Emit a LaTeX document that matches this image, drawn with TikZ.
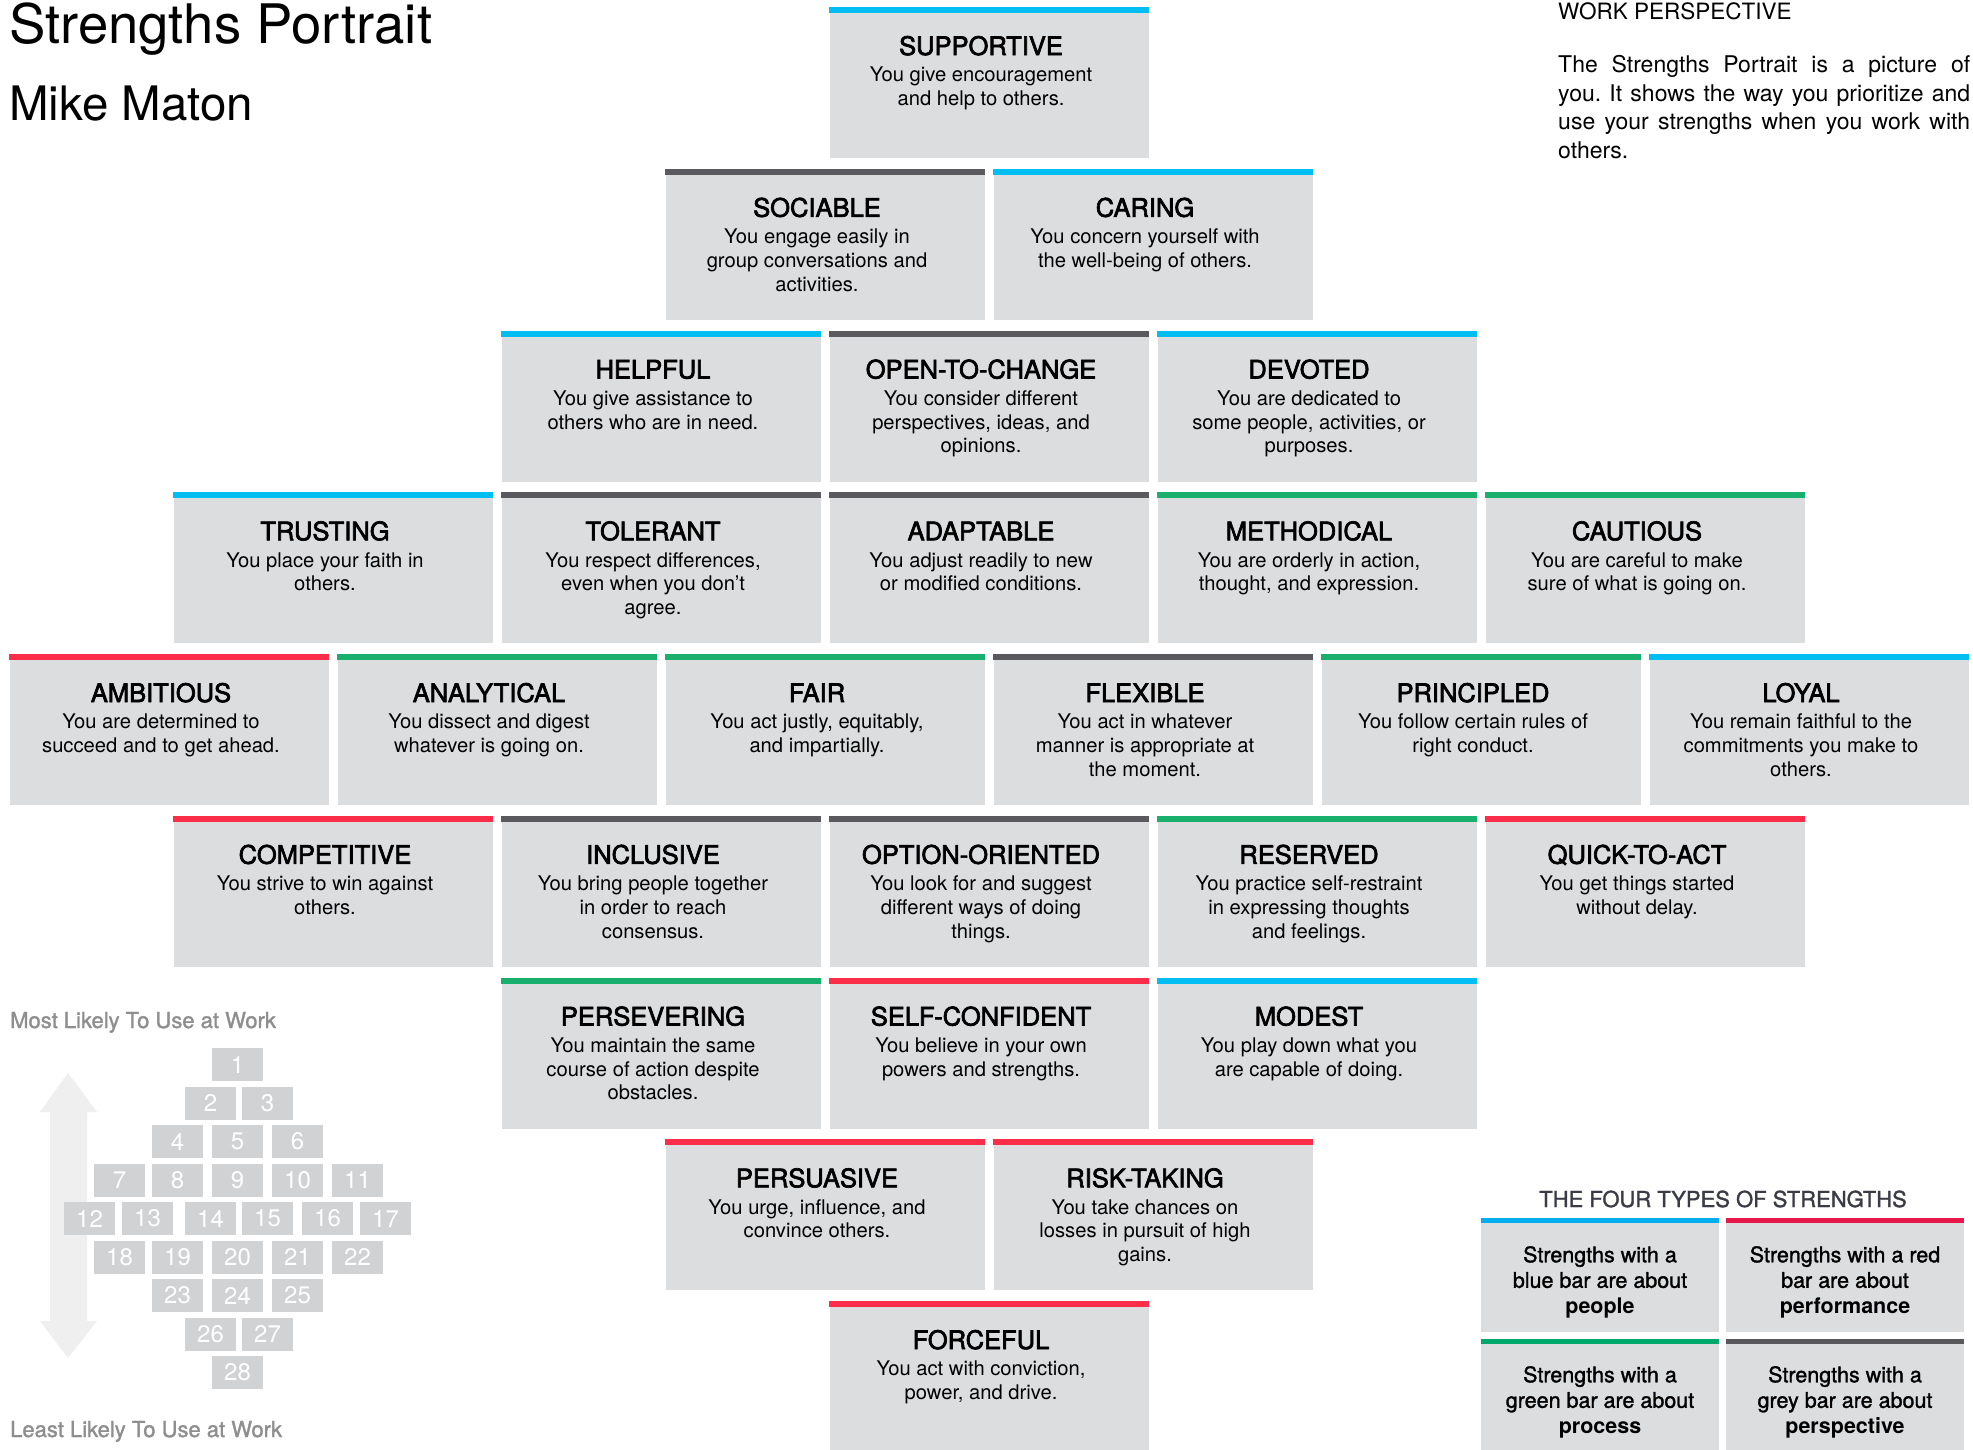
\documentclass[tikz,border=0pt]{standalone}
\usepackage{fontspec}
\setmainfont{TeX Gyre Heros}
\newfontfamily\medfont[FakeBold=1.4]{TeX Gyre Heros}
\newfontfamily\headfont[FakeBold=2.6]{TeX Gyre Heros}
\frenchspacing
\definecolor{boxfill}{HTML}{DCDDDF}
\definecolor{sblue}{HTML}{00BEF2}
\definecolor{sred}{HTML}{FB2D48}
\definecolor{sgreen}{HTML}{19AF6C}
\definecolor{sgrey}{HTML}{5A5A5E}
\definecolor{lblue}{HTML}{00AEEF}
\definecolor{lred}{HTML}{E8174A}
\definecolor{lgreen}{HTML}{00A86B}
\definecolor{lgrey}{HTML}{58585A}
\definecolor{cellfill}{HTML}{D1D2D4}
\definecolor{arrowc}{HTML}{EFEFEF}
\definecolor{softgrey}{HTML}{8E8E8E}
\definecolor{darktitle}{HTML}{3A3B45}
\tikzset{
  sbox/.style={anchor=north, minimum width=319pt, minimum height=151pt, inner sep=0pt, fill=boxfill},
  stitle/.style={anchor=base, inner sep=0pt, font=\headfont\fontsize{25.5}{28}\selectfont},
  sdesc/.style={anchor=north, inner sep=0pt, align=center, font=\fontsize{20.2}{23.7}\selectfont},
  lbox/.style={anchor=north, minimum width=238pt, minimum height=114pt, inner sep=0pt, fill=boxfill},
  ltext/.style={anchor=north, inner sep=0pt, align=center, font=\medfont\fontsize{21.5}{25.5}\selectfont},
  cell/.style={minimum width=51pt, minimum height=33pt, inner sep=0pt, fill=cellfill, text=white, font=\fontsize{24}{24}\selectfont},
}
\newcommand\strbox[6]{%
  \pgfmathsetmacro\bx{989+#2*328}%
  \pgfmathsetmacro\by{7+#3*161.75}%
  \node[sbox] (#1) at (\bx,\by) {};
  \fill[#4] (#1.north west) rectangle ([yshift=-6pt]#1.north east);
  \node[stitle] (#1-t) at (\bx-8,\by+48) {#5};
  \node[sdesc] (#1-d) at (\bx-8,\by+60) {#6};
}
\begin{document}
\begin{tikzpicture}[x=1pt,y=-1pt]
\useasboundingbox[fill=white] (0,0) rectangle (1973,1449);

% titles
\node[anchor=base west, inner sep=0pt, font=\fontsize{54.5}{60}\selectfont] (title) at (9,43) {Strengths Portrait};
\node[anchor=base west, inner sep=0pt, font=\fontsize{47.5}{50}\selectfont] (name) at (9,120) {Mike Maton};

\node[anchor=base west, inner sep=0pt, font=\fontsize{22.5}{24}\selectfont] (wp) at (1558,19) {WORK PERSPECTIVE};
\node[anchor=north west, inner sep=0pt, align=left, font=\fontsize{23}{28.8}\selectfont] (para) at (1558,55)
  {\makebox[412pt][s]{The Strengths Portrait is a picture of}\\
   \makebox[412pt][s]{you. It shows the way you prioritize and}\\
   \makebox[412pt][s]{use your strengths when you work with}\\
   others.};

% strength boxes
\strbox{supportive}{0}{0}{sblue}{SUPPORTIVE}{You give encouragement\\and help to others.}
\strbox{sociable}{-0.5}{1}{sgrey}{SOCIABLE}{You engage easily in\\group conversations and\\activities.}
\strbox{caring}{0.5}{1}{sblue}{CARING}{You concern yourself with\\the well-being of others.}
\strbox{helpful}{-1}{2}{sblue}{HELPFUL}{You give assistance to\\others who are in need.}
\strbox{openchange}{0}{2}{sgrey}{OPEN-TO-CHANGE}{You consider different\\perspectives, ideas, and\\opinions.}
\strbox{devoted}{1}{2}{sblue}{DEVOTED}{You are dedicated to\\some people, activities, or\\purposes.}
\strbox{trusting}{-2}{3}{sblue}{TRUSTING}{You place your faith in\\others.}
\strbox{tolerant}{-1}{3}{sgrey}{TOLERANT}{You respect differences,\\even when you don’t\\agree.}
\strbox{adaptable}{0}{3}{sgrey}{ADAPTABLE}{You adjust readily to new\\or modified conditions.}
\strbox{methodical}{1}{3}{sgreen}{METHODICAL}{You are orderly in action,\\thought, and expression.}
\strbox{cautious}{2}{3}{sgreen}{CAUTIOUS}{You are careful to make\\sure of what is going on.}
\strbox{ambitious}{-2.5}{4}{sred}{AMBITIOUS}{You are determined to\\succeed and to get ahead.}
\strbox{analytical}{-1.5}{4}{sgreen}{ANALYTICAL}{You dissect and digest\\whatever is going on.}
\strbox{fair}{-0.5}{4}{sgreen}{FAIR}{You act justly, equitably,\\and impartially.}
\strbox{flexible}{0.5}{4}{sgrey}{FLEXIBLE}{You act in whatever\\manner is appropriate at\\the moment.}
\strbox{principled}{1.5}{4}{sgreen}{PRINCIPLED}{You follow certain rules of\\right conduct.}
\strbox{loyal}{2.5}{4}{sblue}{LOYAL}{You remain faithful to the\\commitments you make to\\others.}
\strbox{competitive}{-2}{5}{sred}{COMPETITIVE}{You strive to win against\\others.}
\strbox{inclusive}{-1}{5}{sgrey}{INCLUSIVE}{You bring people together\\in order to reach\\consensus.}
\strbox{optionoriented}{0}{5}{sgrey}{OPTION-ORIENTED}{You look for and suggest\\different ways of doing\\things.}
\strbox{reserved}{1}{5}{sgreen}{RESERVED}{You practice self-restraint\\in expressing thoughts\\and feelings.}
\strbox{quickact}{2}{5}{sred}{QUICK-TO-ACT}{You get things started\\without delay.}
\strbox{persevering}{-1}{6}{sgreen}{PERSEVERING}{You maintain the same\\course of action despite\\obstacles.}
\strbox{selfconfident}{0}{6}{sred}{SELF-CONFIDENT}{You believe in your own\\powers and strengths.}
\strbox{modest}{1}{6}{sblue}{MODEST}{You play down what you\\are capable of doing.}
\strbox{persuasive}{-0.5}{7}{sred}{PERSUASIVE}{You urge, influence, and\\convince others.}
\strbox{risktaking}{0.5}{7}{sred}{RISK-TAKING}{You take chances on\\losses in pursuit of high\\gains.}
\strbox{forceful}{0}{8}{sred}{FORCEFUL}{You act with conviction,\\power, and drive.}

% left legend
\node[anchor=base west, inner sep=0pt, text=softgrey, font=\medfont\fontsize{22}{24}\selectfont] (most) at (10,1028) {Most Likely To Use at Work};
\node[anchor=base west, inner sep=0pt, text=softgrey, font=\medfont\fontsize{22}{24}\selectfont] (least) at (10,1437) {Least Likely To Use at Work};
\fill[arrowc] (68,1073) -- (97,1112) -- (87,1112) -- (87,1321) -- (97,1321) -- (68,1358)
  -- (40,1321) -- (50,1321) -- (50,1112) -- (40,1112) -- cycle;
\foreach \n/\cx/\r in {1/237.5/0, 2/210.5/1, 3/267.5/1, 4/177.5/2, 5/237.5/2, 6/297.5/2,
  7/119.5/3, 8/177.5/3, 9/237.5/3, 10/297.5/3, 11/357.5/3,
  12/89.5/4, 13/147.5/4, 14/210.5/4, 15/267.5/4, 16/327.5/4, 17/385.5/4,
  18/119.5/5, 19/177.5/5, 20/237.5/5, 21/297.5/5, 22/357.5/5,
  23/177.5/6, 24/237.5/6, 25/297.5/6, 26/210.5/7, 27/267.5/7, 28/237.5/8}
  \node[cell] (n\n) at (\cx,1064.5+\r*38.5) {\n};

% right legend
\node[anchor=base, inner sep=0pt, text=darktitle, font=\medfont\fontsize{22}{24}\selectfont] (ltitle) at (1723,1207) {THE FOUR TYPES OF STRENGTHS};
\node[lbox] (lpeople) at (1600,1218) {};
\fill[lblue] (lpeople.north west) rectangle ([yshift=-5pt]lpeople.north east);
\node[ltext] (lpeople-t) at (1600,1246) {Strengths with a\\blue bar are about\\{\normalfont\bfseries people}};
\node[lbox] (lperf) at (1845,1218) {};
\fill[lred] (lperf.north west) rectangle ([yshift=-5pt]lperf.north east);
\node[ltext] (lperf-t) at (1845,1246) {Strengths with a red\\bar are about\\{\normalfont\bfseries performance}};
\node[lbox, minimum height=120pt] (lproc) at (1600,1339) {};
\fill[lgreen] (lproc.north west) rectangle ([yshift=-5pt]lproc.north east);
\node[ltext] (lproc-t) at (1600,1366) {Strengths with a\\green bar are about\\{\normalfont\bfseries process}};
\node[lbox, minimum height=120pt] (lpersp) at (1845,1339) {};
\fill[lgrey] (lpersp.north west) rectangle ([yshift=-5pt]lpersp.north east);
\node[ltext] (lpersp-t) at (1845,1366) {Strengths with a\\grey bar are about\\{\normalfont\bfseries perspective}};
\end{tikzpicture}
\end{document}
